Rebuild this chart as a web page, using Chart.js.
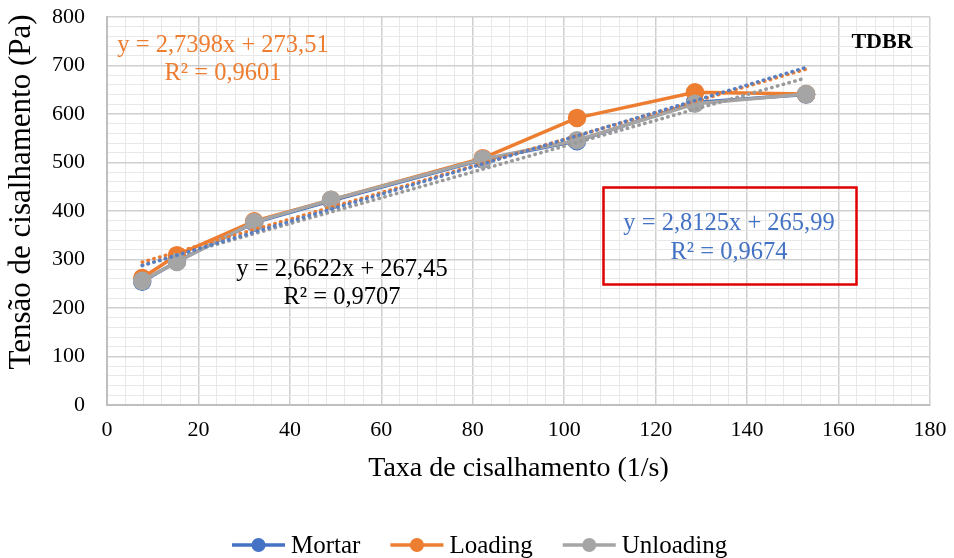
<!DOCTYPE html>
<html>
<head>
<meta charset="utf-8">
<script src="https://cdn.jsdelivr.net/npm/chart.js@4"></script>
<style>
  html, body { margin: 0; padding: 0; background: #fff; }
  #wrap { width: 954px; height: 558px; }
</style>
</head>
<body>
<div id="wrap"><canvas id="shear"></canvas></div>
<script>
// shear rate (1/s)
const shearRate = [7.7, 15.3, 32.2, 49, 82.2, 102.8, 128.6, 152.9];

// shear stress (Pa)
const mortar = [254, 296, 376, 421, 506, 544, 624, 640];
const loading = [262, 309, 379, 423, 509, 592, 645, 641];
const unloading = [256, 295, 377, 423, 507, 546, 621, 641];

// trendlines as printed on the chart: [slope, intercept]
const mortarFit = [2.8125, 265.99];
const loadingFit = [2.7398, 273.51];
const unloadingFit = [2.6622, 267.45];

const xTicks = [0, 20, 40, 60, 80, 100, 120, 140, 160, 180];
const yTicks = [0, 100, 200, 300, 400, 500, 600, 700, 800];

const colors = { Mortar: '#4472C4', Loading: '#ED7D31', Unloading: '#A5A5A5' };
const serif = "'Liberation Serif', 'Times New Roman', serif";

function points(ys) {
    return shearRate.map((x, i) => ({ x: x, y: ys[i] }));
}

function fitLine(fit) {
    const x0 = shearRate[0];
    const x1 = shearRate[shearRate.length - 1];
    return [{ x: x0, y: fit[0] * x0 + fit[1] }, { x: x1, y: fit[0] * x1 + fit[1] }];
}

function series(label, ys, order) {
    return {
        label: label,
        data: points(ys),
        borderColor: colors[label],
        backgroundColor: colors[label],
        borderWidth: 3.5,
        pointRadius: 7.5,
        pointHoverRadius: 7.5,
        order: order
    };
}

function trend(label, fit, color) {
    return {
        label: label,
        data: fitLine(fit),
        borderColor: color,
        borderWidth: 3.5,
        borderDash: [0.5, 5.5],
        borderCapStyle: 'round',
        pointRadius: 0,
        order: -1
    };
}

// y title, equations, the red box, the TDBR tag and the legend
const overlay = {
    id: 'overlay',
    afterDraw(chart) {
        const c = chart.ctx;
        c.save();
        c.textAlign = 'center';
        c.textBaseline = 'middle';

        c.save();
        c.translate(22, 192);
        c.rotate(-Math.PI / 2);
        c.fillStyle = '#000';
        c.font = `31px ${serif}`;
        c.fillText('Tensão de cisalhamento (Pa)', 0, 0);
        c.restore();

        c.font = `24.5px ${serif}`;

        c.fillStyle = '#ED7D31';
        c.fillText('y = 2,7398x + 273,51', 223, 46);
        c.fillText('R² = 0,9601', 223, 74);

        c.fillStyle = '#000';
        c.fillText('y = 2,6622x + 267,45', 342, 270);
        c.fillText('R² = 0,9707', 342, 298);

        c.fillStyle = '#4472C4';
        c.fillText('y = 2,8125x + 265,99', 729, 224);
        c.fillText('R² = 0,9674', 729, 253);

        c.strokeStyle = '#E00000';
        c.lineWidth = 2.5;
        c.strokeRect(603.5, 187.5, 253, 97);

        c.fillStyle = '#000';
        c.font = `bold 22px ${serif}`;
        c.fillText('TDBR', 882, 42);

        // legend
        c.font = `25px ${serif}`;
        c.textAlign = 'left';
        let x = 232;
        const y = 545;
        chart.data.datasets.filter(d => colors[d.label]).sort((a, b) => b.order - a.order).forEach(d => {
            c.strokeStyle = d.borderColor;
            c.lineWidth = 3.5;
            c.beginPath();
            c.moveTo(x, y);
            c.lineTo(x + 53, y);
            c.stroke();
            c.fillStyle = d.borderColor;
            c.beginPath();
            c.arc(x + 26.5, y, 7, 0, Math.PI * 2);
            c.fill();
            c.fillStyle = '#000';
            c.fillText(d.label, x + 59, y + 1);
            x += 59 + c.measureText(d.label).width + 30;
        });
        c.restore();
    }
};

const ctx = document.getElementById('shear').getContext('2d');
const shearChart = new Chart(ctx, {
    type: 'line',
    data: {
        datasets: [
            series('Unloading', unloading, 0),
            series('Loading', loading, 1),
            series('Mortar', mortar, 2),
            trend('Mortar trend', mortarFit, '#5A7FC0'),
            trend('Loading trend', loadingFit, '#ED7D31'),
            trend('Unloading trend', unloadingFit, '#9A9A9A')
        ]
    },
    options: {
        responsive: true,
        maintainAspectRatio: false,
        animation: false,
        layout: { padding: { left: 0, right: 24, top: 17, bottom: 73 } },
        plugins: {
            legend: { display: false },
            tooltip: { enabled: false }
        },
        scales: {
            x: {
                type: 'linear',
                min: xTicks[0],
                max: xTicks[xTicks.length - 1],
                afterFit: s => { s.height = 80; s.paddingRight = 0; s.paddingLeft = 0; },
                ticks: {
                    stepSize: 4,
                    autoSkip: false,
                    maxRotation: 0,
                    padding: 12,
                    color: '#000',
                    font: { family: serif, size: 22 },
                    callback: v => xTicks.includes(v) ? v : ''
                },
                grid: {
                    drawTicks: false,
                    lineWidth: c => xTicks.includes(c.tick.value) ? 1.5 : 1,
                    color: c => xTicks.includes(c.tick.value) ? '#CFCFCF' : '#E8E8E8'
                },
                border: { color: '#BFBFBF', width: 2 },
                title: {
                    display: true,
                    text: 'Taxa de cisalhamento (1/s)',
                    color: '#000',
                    font: { family: serif, size: 28 },
                    padding: { bottom: 0 }
                }
            },
            y: {
                min: yTicks[0],
                max: yTicks[yTicks.length - 1],
                afterFit: s => { s.width = 107; s.paddingTop = 0; s.paddingBottom = 0; },
                ticks: {
                    stepSize: 20,
                    autoSkip: false,
                    padding: 22,
                    color: '#000',
                    font: { family: serif, size: 22 },
                    callback: v => yTicks.includes(v) ? v : ''
                },
                grid: {
                    drawTicks: false,
                    lineWidth: c => yTicks.includes(c.tick.value) ? 1.5 : 1,
                    color: c => yTicks.includes(c.tick.value) ? '#CFCFCF' : '#E8E8E8'
                },
                border: { color: '#BFBFBF', width: 2 },
                title: { display: false }
            }
        }
    },
    plugins: [overlay]
});
</script>
</body>
</html>
